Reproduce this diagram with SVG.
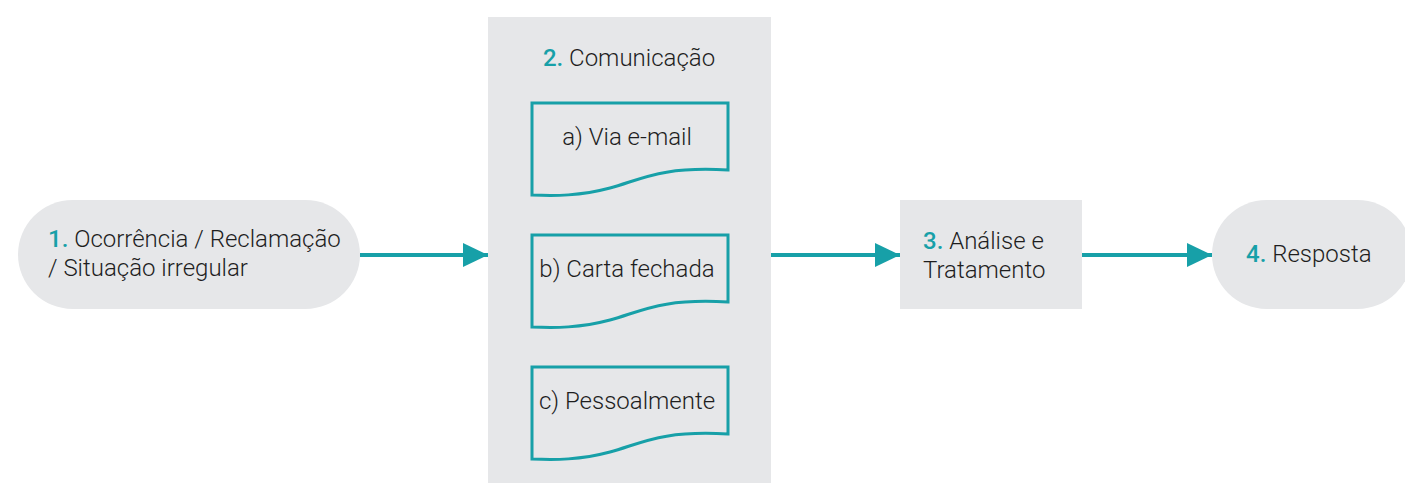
<svg xmlns="http://www.w3.org/2000/svg" width="1405" height="483" viewBox="0 0 1405 483">
<defs>
<style>
.bg{fill:#e6e7e9}
.t{font-family:Roboto,"Liberation Sans",sans-serif;font-weight:300;font-size:24px;fill:#1e1e1e}
.n{fill:#17a0a8;font-weight:500}
.doc{fill:none;stroke:#17a0a8;stroke-width:3}
.c{stroke:#17a0a8;stroke-width:4;fill:none}
</style>
<marker id="ah" markerUnits="userSpaceOnUse" markerWidth="26" markerHeight="24" refX="25" refY="12" orient="auto">
<path d="M0,0 L25,12 L0,24 Z" fill="#17a0a8"/>
</marker>
</defs>
<rect width="1405" height="483" fill="#fff"/>
<g id="node1">
<rect class="bg" x="18" y="200" width="342" height="109" rx="54.5"/>
<text class="t" x="48" y="247"><tspan class="n">1.</tspan> Ocorrência / Reclamação</text>
<text class="t" x="48" y="276">/ Situação irregular</text>
</g>
<g id="node2">
<rect class="bg" x="488" y="17" width="283" height="466"/>
<text class="t" x="629" y="66" text-anchor="middle"><tspan class="n">2.</tspan> Comunicação</text>
</g>
<g id="doc-a">
<path class="doc" d="M532,103 H728 V170 C660,166 640,180 610,188 C580,196 555,196 532,195 Z"/>
<text class="t" x="627" y="145" text-anchor="middle">a) Via e-mail</text>
</g>
<g id="doc-b">
<path class="doc" d="M532,235 H728 V302 C660,298 640,312 610,320 C580,328 555,328 532,327 Z"/>
<text class="t" x="627" y="277" text-anchor="middle">b) Carta fechada</text>
</g>
<g id="doc-c">
<path class="doc" d="M532,367 H728 V434 C660,430 640,444 610,452 C580,460 555,460 532,459 Z"/>
<text class="t" x="627" y="409" text-anchor="middle">c) Pessoalmente</text>
</g>
<g id="node3">
<rect class="bg" x="900" y="200" width="182" height="109"/>
<text class="t" x="923" y="249"><tspan class="n">3.</tspan> Análise e</text>
<text class="t" x="923" y="278">Tratamento</text>
</g>
<g id="node4">
<rect class="bg" x="1212" y="200" width="200" height="109" rx="54.5"/>
<text class="t" x="1246" y="262"><tspan class="n">4.</tspan> Resposta</text>
</g>
<g id="connectors">
<line class="c" x1="360" y1="255" x2="488" y2="255" marker-end="url(#ah)"/>
<line class="c" x1="771" y1="255" x2="900" y2="255" marker-end="url(#ah)"/>
<line class="c" x1="1082" y1="255" x2="1212" y2="255" marker-end="url(#ah)"/>
</g>
</svg>
